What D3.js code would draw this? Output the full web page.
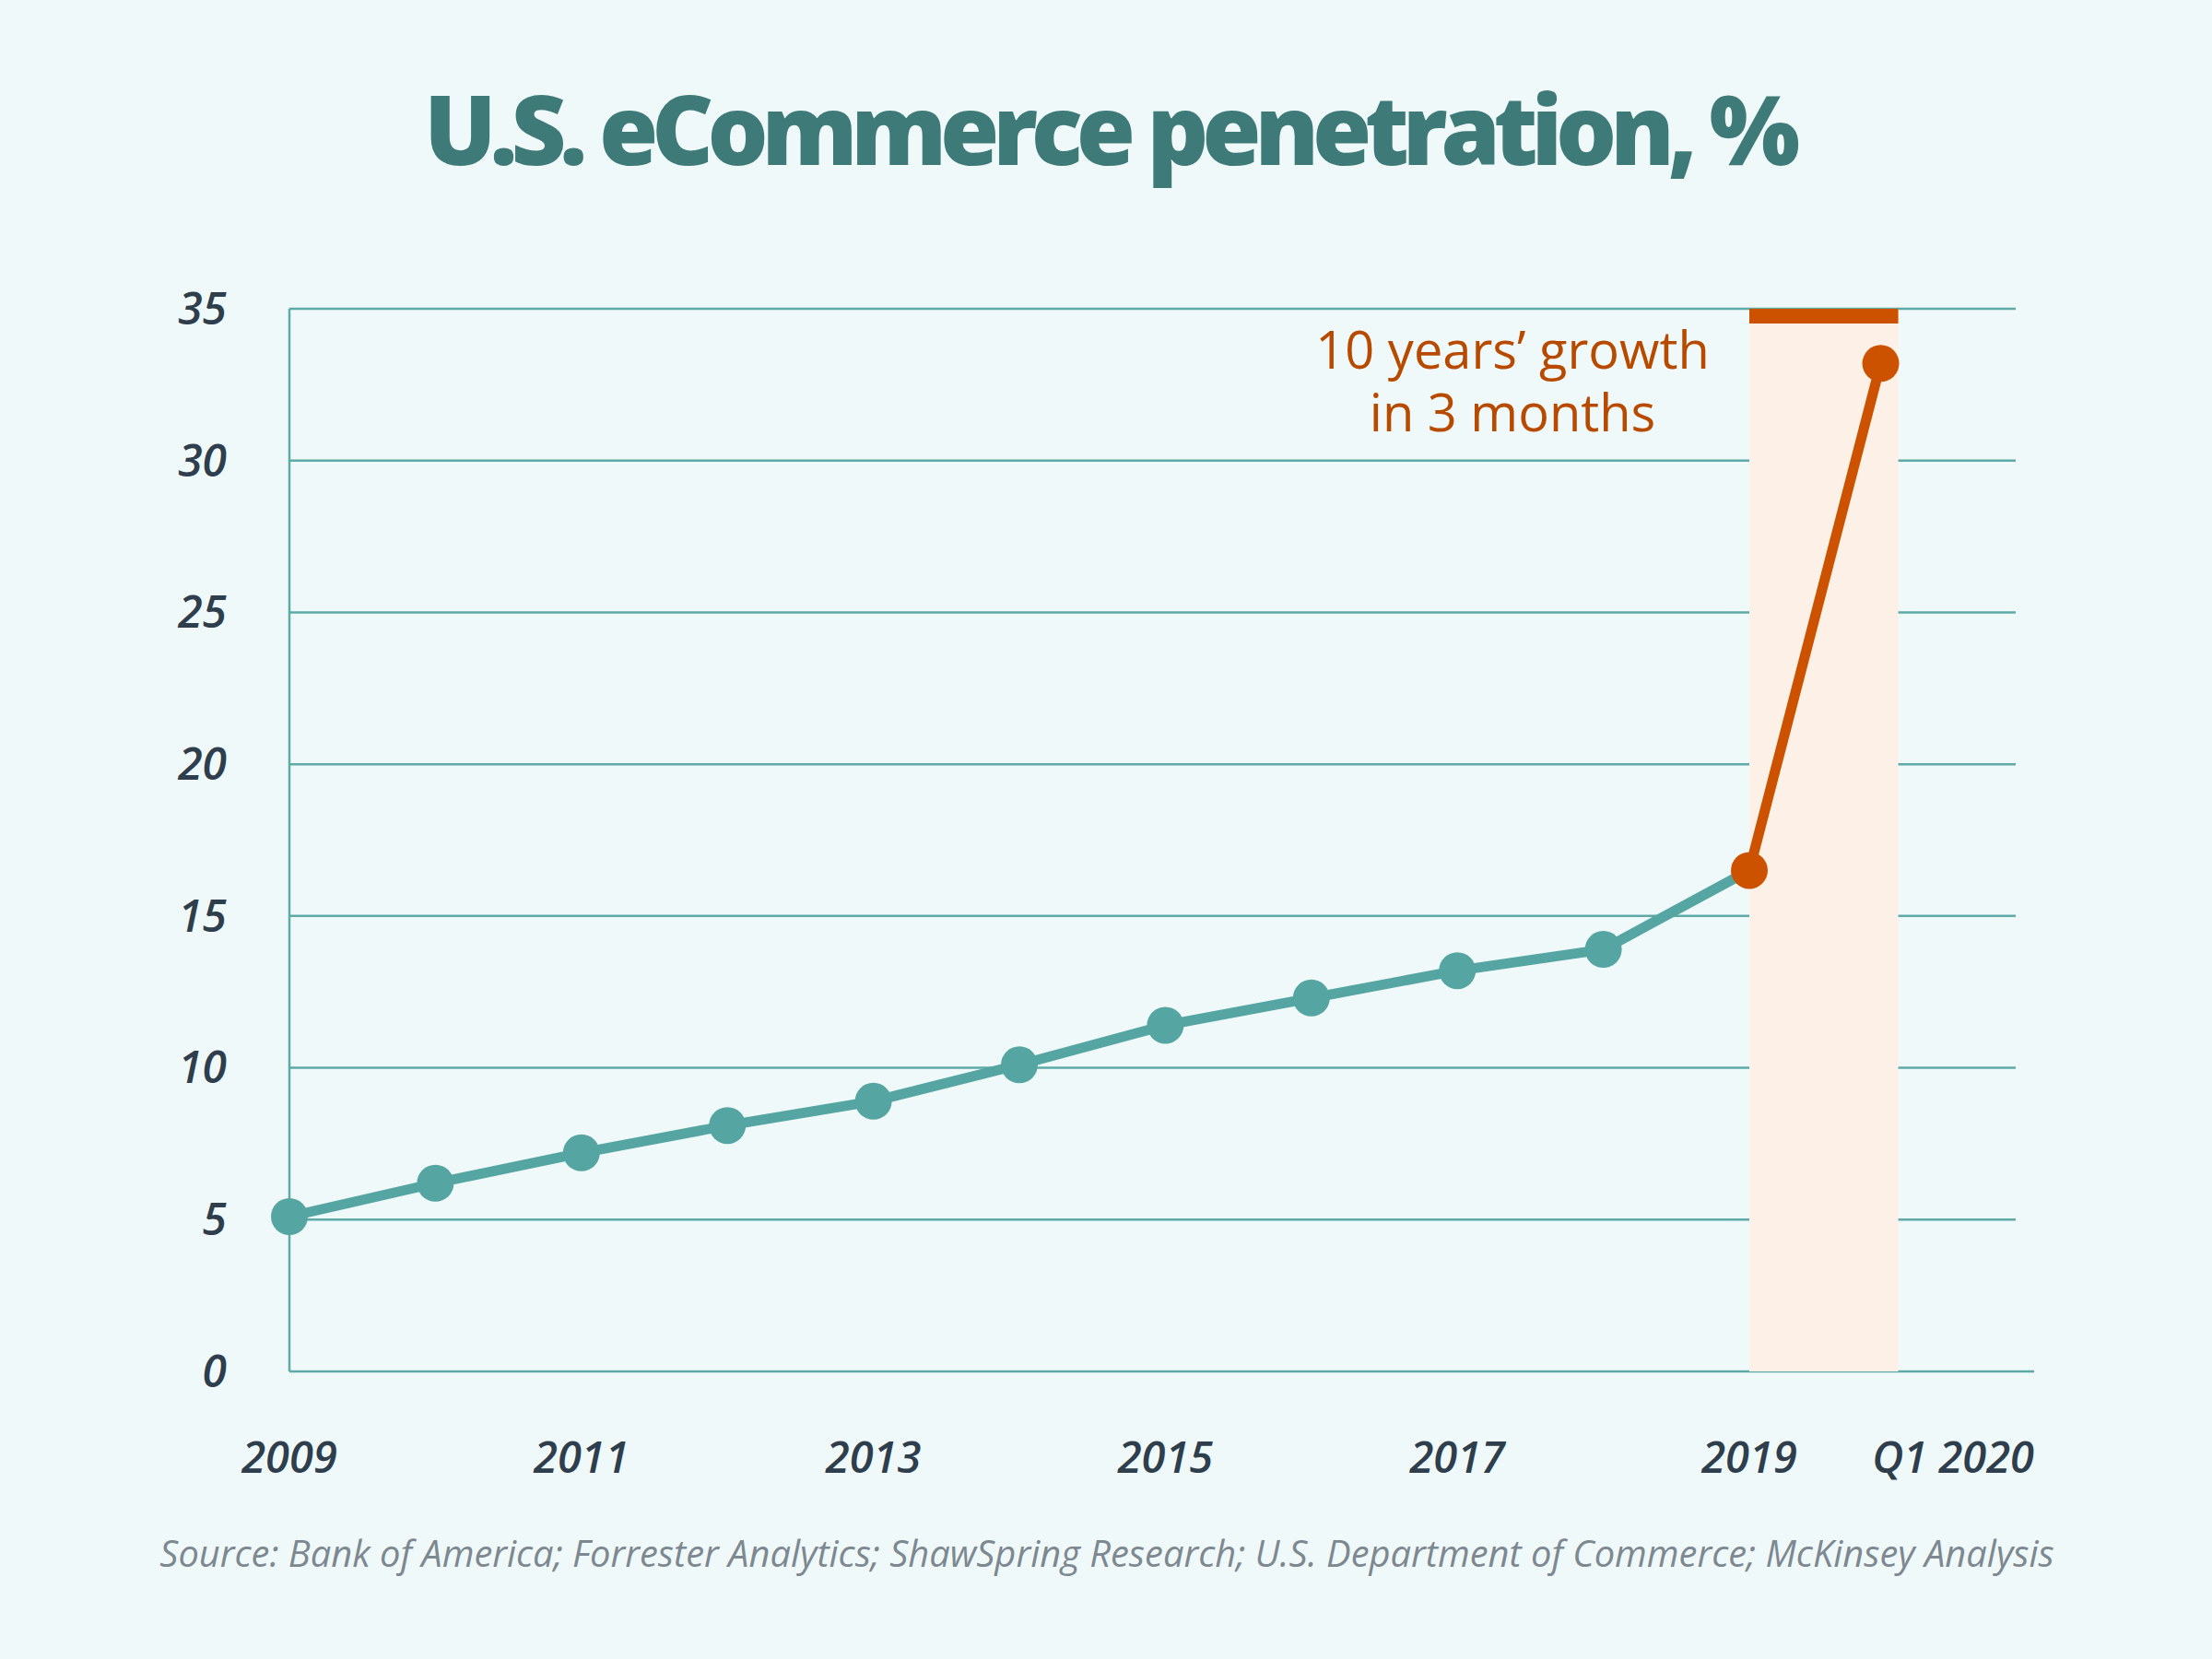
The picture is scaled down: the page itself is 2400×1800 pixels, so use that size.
<!DOCTYPE html>
<html>
<head>
<meta charset="utf-8">
<script src="https://cdn.jsdelivr.net/npm/d3@7"></script>
<style>
  html, body { margin: 0; padding: 0; background: #f0f9f9; }
  svg { display: block; }
</style>
</head>
<body>
<script>
// ---- data ----
const categories = ["2009","2010","2011","2012","2013","2014","2015","2016","2017","2018","2019","Q1 2020"];
const periods = [2009, 2010, 2011, 2012, 2013, 2014, 2015, 2016, 2017, 2018, 2019, 2019.9];
const values = [5.1, 6.2, 7.2, 8.1, 8.9, 10.1, 11.4, 12.3, 13.2, 13.9, 16.5, 33.2];
const xTickLabels = ["2009","2011","2013","2015","2017","2019","Q1 2020"];
const yTicks = [0, 5, 10, 15, 20, 25, 30, 35];
const titleText = "U.S. eCommerce penetration, %";
const noteLines = ["10 years\u2019 growth", "in 3 months"];
const sourceText = "Source: Bank of America; Forrester Analytics; ShawSpring Research; U.S. Department of Commerce; McKinsey Analysis";

// ---- layout ----
const W = 2400, H = 1800;
const teal = "#55a5a2", grid = "#5eaaa6", orange = "#cc5200", textDark = "#2f3e4c";
const x = d3.scaleLinear().domain([2009, 2019]).range([314, 1898]);
const y = d3.scaleLinear().domain([0, 35]).range([1488, 335]);
const gridRight = 2187, axisRight = 2207;

const svg = d3.select("body").append("svg").attr("width", W).attr("height", H);
svg.append("rect").attr("width", W).attr("height", H).attr("fill", "#f0f9f9");

// title
const title = svg.append("text").attr("x", 1203).attr("y", 179).attr("text-anchor", "middle")
  .attr("font-family", "Open Sans").attr("font-weight", 800).attr("font-size", 104)
  .attr("letter-spacing", -5).attr("fill", "#3d7a78").text(titleText);
const tLen = title.node().getComputedTextLength();
title.attr("letter-spacing", -5 + (1488 - tLen) / (titleText.length - 1));

// gridlines
svg.append("g").selectAll("line").data(yTicks.filter(d => d > 0)).join("line")
  .attr("x1", x(2009)).attr("x2", gridRight)
  .attr("y1", d => y(d)).attr("y2", d => y(d))
  .attr("stroke", grid).attr("stroke-width", 2.5);

// axes lines
svg.append("line").attr("x1", x(2009)).attr("x2", axisRight).attr("y1", y(0)).attr("y2", y(0))
  .attr("stroke", grid).attr("stroke-width", 2.5);
svg.append("line").attr("x1", x(2009)).attr("x2", x(2009)).attr("y1", y(35)).attr("y2", y(0))
  .attr("stroke", grid).attr("stroke-width", 2.5);

// highlight band
const bandL = x(periods[10]), bandR = x(2020.02);
svg.append("rect").attr("x", bandL).attr("y", y(35)).attr("width", bandR - bandL)
  .attr("height", y(0) - y(35)).attr("fill", "#fdf0e6");
svg.append("rect").attr("x", bandL).attr("y", y(35)).attr("width", bandR - bandL)
  .attr("height", 16).attr("fill", orange);

// y tick labels
svg.append("g").selectAll("text").data(yTicks).join("text")
  .attr("x", 246).attr("y", d => y(d)).attr("dy", "0.35em").attr("text-anchor", "end")
  .attr("font-family", "Open Sans").attr("font-style", "italic").attr("font-weight", 600)
  .attr("font-size", 48).attr("fill", textDark).text(d => d);

// x tick labels
const labelPos = xTickLabels.map(l => {
  const i = categories.indexOf(l);
  return { label: l, p: periods[i] };
});
svg.append("g").selectAll("text").data(labelPos).join("text")
  .attr("x", d => d.label === "Q1 2020" ? axisRight : x(d.p))
  .attr("y", 1598)
  .attr("text-anchor", d => d.label === "Q1 2020" ? "end" : "middle")
  .attr("font-family", "Open Sans").attr("font-style", "italic").attr("font-weight", 600)
  .attr("font-size", 47).attr("fill", textDark).text(d => d.label);

// lines
const pts = periods.map((p, i) => ({ p, v: values[i] }));
const line = d3.line().x(d => x(d.p)).y(d => y(d.v));
svg.append("path").datum(pts.slice(0, 11)).attr("d", line)
  .attr("fill", "none").attr("stroke", teal).attr("stroke-width", 11).attr("stroke-linejoin", "round");
svg.append("path").datum(pts.slice(10)).attr("d", line)
  .attr("fill", "none").attr("stroke", orange).attr("stroke-width", 11).attr("stroke-linejoin", "round");

// dots
svg.append("g").selectAll("circle").data(pts).join("circle")
  .attr("cx", d => x(d.p)).attr("cy", d => y(d.v)).attr("r", 20)
  .attr("fill", (d, i) => i >= 10 ? orange : teal);

// annotation
svg.append("g").selectAll("text").data(noteLines).join("text")
  .attr("x", 1641).attr("y", (d, i) => 400 + i * 68).attr("text-anchor", "middle")
  .attr("font-family", "Open Sans").attr("font-weight", 400).attr("font-size", 56)
  .attr("fill", "#b84a00").text(d => d);

// source
const src = svg.append("text").attr("x", 1201).attr("y", 1700).attr("text-anchor", "middle")
  .attr("font-family", "Open Sans").attr("font-style", "italic").attr("font-size", 38)
  .attr("fill", "#7d8891").text(sourceText);
const len = src.node().getComputedTextLength();
src.attr("font-size", 38 * 2056 / len);
</script>
</body>
</html>
